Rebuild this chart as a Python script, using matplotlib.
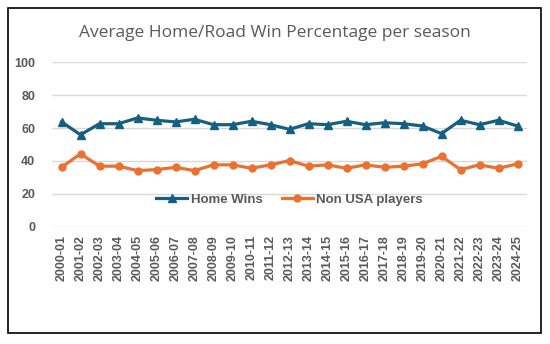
import numpy as np
import matplotlib.pyplot as plt
from matplotlib.patches import Rectangle

# season labels
seasons = ["2000-01", "2001-02", "2002-03", "2003-04", "2004-05", "2005-06",
           "2006-07", "2007-08", "2008-09", "2009-10", "2010-11", "2011-12",
           "2012-13", "2013-14", "2014-15", "2015-16", "2016-17", "2017-18",
           "2018-19", "2019-20", "2020-21", "2021-22", "2022-23", "2023-24",
           "2024-25"]

# values
home_wins = [63.7, 55.9, 62.6, 62.6, 66.1, 64.7, 63.7, 65.3, 62.0, 62.0,
             64.1, 62.0, 59.2, 62.6, 62.0, 64.1, 62.0, 63.2, 62.6, 61.2,
             56.6, 64.7, 62.0, 64.7, 61.2]
non_usa = [36.1, 44.3, 36.8, 36.8, 34.1, 34.7, 36.1, 34.1, 37.6, 37.6,
           35.5, 37.6, 40.2, 36.8, 37.6, 35.5, 37.6, 36.1, 36.8, 38.2,
           42.8, 34.7, 37.6, 35.5, 38.2]

y_ticks = [0, 20, 40, 60, 80, 100]

fig = plt.figure(figsize=(5.5, 3.44), dpi=100)
fig.patch.set_facecolor("white")

# outer border of the chart box
fig.patches.append(Rectangle((8 / 550, 1 - 333 / 344), 533 / 550, 325 / 344,
                             transform=fig.transFigure, fill=False,
                             edgecolor="black", linewidth=1.2))

ax = fig.add_axes([52 / 550, 1 - 226.7 / 344, 475 / 550, 164.5 / 344])
x = np.arange(len(seasons))

ax.plot(x, home_wins, color="#156082", linewidth=2.3, marker="^",
        markersize=5.5, label="Home Wins")
ax.plot(x, non_usa, color="#E97132", linewidth=2.3, marker="o",
        markersize=5, label="Non USA players")

ax.set_xlim(-0.5, len(seasons) - 0.5)
ax.set_ylim(0, 100)
ax.set_yticks(y_ticks)
ax.set_xticks(x)
ax.set_xticklabels(seasons, rotation=90)

ax.grid(axis="y", color="#D9D9D9", linewidth=1)
ax.set_axisbelow(True)
for s in ax.spines.values():
    s.set_visible(False)
ax.tick_params(length=0, labelsize=9, labelcolor="#595959")
ax.tick_params(axis="y", pad=12)
ax.tick_params(axis="x", pad=6)
for lab in ax.get_xticklabels() + ax.get_yticklabels():
    lab.set_fontweight("bold")
    lab.set_family("Liberation Sans")

leg = ax.legend(loc="center", bbox_to_anchor=(0.5, 0.165), ncol=2,
                frameon=False, numpoints=1, handlelength=2.35,
                columnspacing=1.45, handletextpad=0.25,
                prop={"family": "Liberation Sans", "weight": "bold", "size": 9.5})
for t in leg.get_texts():
    t.set_color("#595959")

fig.text(0.5, 1 - 33 / 344, "Average Home/Road Win Percentage per season",
         ha="center", va="center", fontsize=12.5, color="#595959",
         family="Open Sans")

fig.savefig("out.png", dpi=100)
